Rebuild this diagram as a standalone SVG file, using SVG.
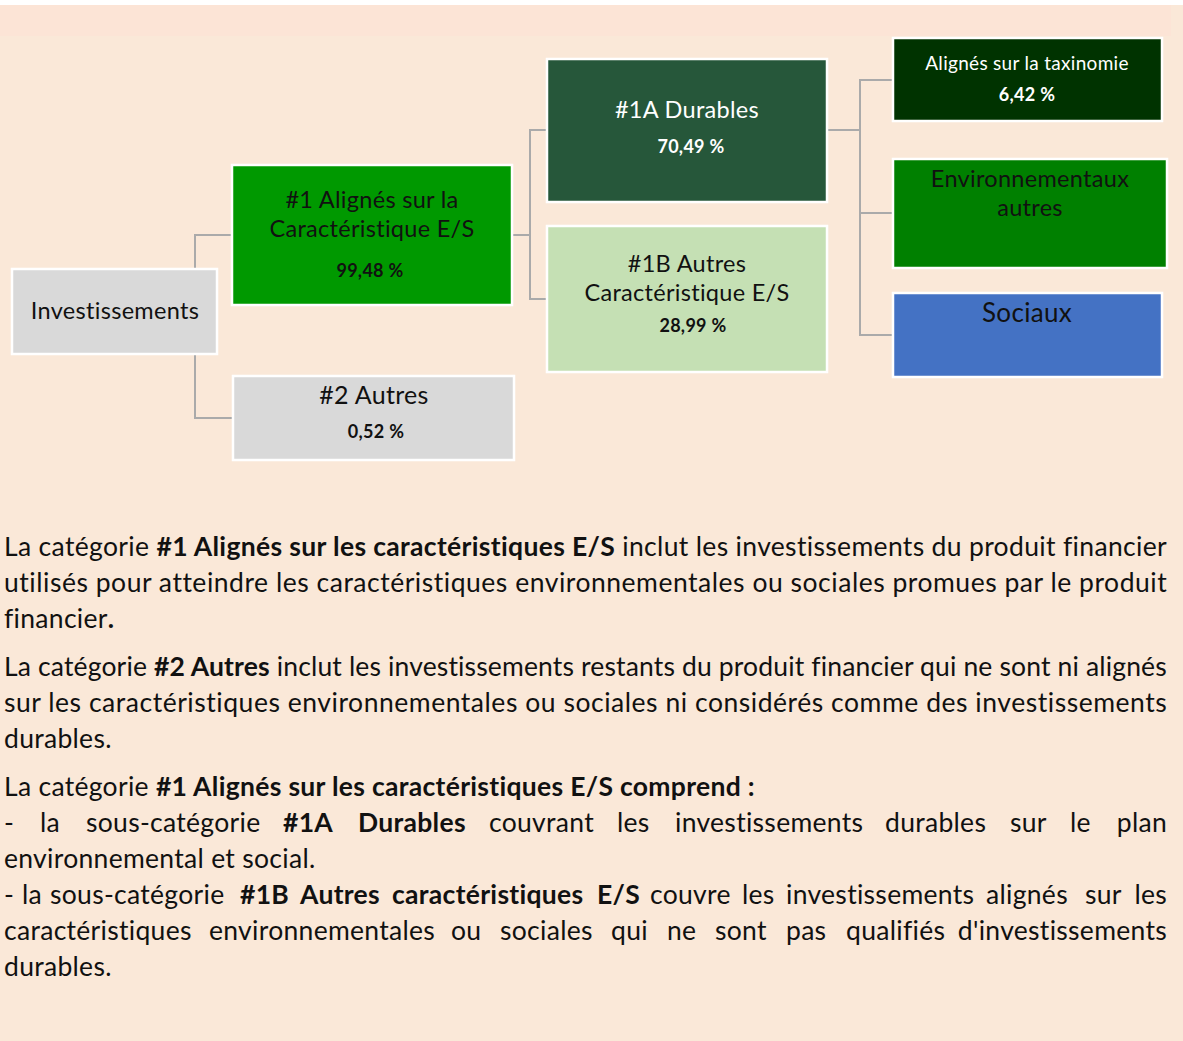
<svg xmlns="http://www.w3.org/2000/svg" width="1183" height="1041" viewBox="0 0 1183 1041">
<style>
.box{stroke:#ffffff;stroke-width:2.5}
.t{font-family:Lato,"Liberation Sans",sans-serif;text-anchor:middle;letter-spacing:0.3px;font-variant-ligatures:none}
.n{font-size:23.5px}
.p{font-size:18px;font-weight:bold}
.w{fill:#ffffff}
.k{fill:#111111}
.c{fill:none;stroke:#aaaaaa;stroke-width:2}
.body{font-family:Lato,"Liberation Sans",sans-serif;font-size:26.5px;fill:#111111;letter-spacing:0.3px;font-variant-ligatures:none}
.b{font-weight:bold}
</style>
<rect x="0" y="0" width="1183" height="1041" fill="#ffffff"/>
<rect x="0" y="5" width="1183" height="1036" fill="#fae8d8"/>
<rect x="0" y="5" width="1171" height="31" fill="#fce4d6"/>

<g id="connectors">
<path class="c" d="M195,269 V235 H232 M195,354 V418 H233"/>
<path class="c" d="M512,235 H530 M546,130 H530 V299 H546"/>
<path class="c" d="M827,130 H860 M892,80 H860 V335 H892 M860,213 H892"/>
</g>

<g id="investissements">
<rect class="box" x="12" y="269" width="205" height="85" fill="#d9d9d9"/>
<text class="t n k" x="115" y="319">Investissements</text>
</g>
<g id="n1">
<rect class="box" x="232" y="165" width="280" height="140" fill="#009900"/>
<text class="t n k" x="372" y="208">#1 Alignés sur la</text>
<text class="t n k" x="372" y="237">Caractéristique E/S</text>
<text class="t p k" x="370" y="277">99,48 %</text>
</g>
<g id="n2">
<rect class="box" x="233" y="376" width="281" height="84" fill="#d9d9d9"/>
<text class="t k" style="font-size:25px" x="374" y="404">#2 Autres</text>
<text class="t p k" x="376" y="438">0,52 %</text>
</g>
<g id="n1a">
<rect class="box" x="547" y="59" width="280" height="143" fill="#26573a"/>
<text class="t n w" x="687" y="118">#1A Durables</text>
<text class="t p w" x="691" y="153">70,49 %</text>
</g>
<g id="n1b">
<rect class="box" x="547" y="226" width="280" height="146" fill="#c5e0b4"/>
<text class="t n k" x="687" y="272">#1B Autres</text>
<text class="t n k" x="687" y="301">Caractéristique E/S</text>
<text class="t p k" x="693" y="332">28,99 %</text>
</g>
<g id="taxonomie">
<rect class="box" x="893" y="38" width="269" height="83" fill="#003300"/>
<text class="t w" style="font-size:19px" x="1027" y="70">Alignés sur la taxinomie</text>
<text class="t p w" x="1027" y="101">6,42 %</text>
</g>
<g id="environnementaux">
<rect class="box" x="893" y="159" width="274" height="109" fill="#008000"/>
<text class="t n k" x="1030" y="187">Environnementaux</text>
<text class="t n k" x="1030" y="216">autres</text>
</g>
<g id="sociaux">
<rect class="box" x="893" y="293" width="269" height="84" fill="#4472c4"/>
<text class="t k" style="font-size:26px" x="1027" y="322">Sociaux</text>
</g>

<g id="texte">
<text class="body" x="4" y="556" textLength="1163" lengthAdjust="spacing">La catégorie <tspan class="b">#1 Alignés sur les caractéristiques E/S</tspan> inclut les investissements du produit financier</text>
<text class="body" x="4" y="592" textLength="1163" lengthAdjust="spacing">utilisés pour atteindre les caractéristiques environnementales ou sociales promues par le produit</text>
<text class="body" x="4" y="628">financier<tspan class="b">.</tspan></text>

<text class="body" x="4" y="676" textLength="1163" lengthAdjust="spacing">La catégorie <tspan class="b">#2 Autres</tspan> inclut les investissements restants du produit financier qui ne sont ni alignés</text>
<text class="body" x="4" y="712" textLength="1163" lengthAdjust="spacing">sur les caractéristiques environnementales ou sociales ni considérés comme des investissements</text>
<text class="body" x="4" y="748">durables.</text>

<text class="body" x="4" y="796">La catégorie <tspan class="b">#1 Alignés sur les caractéristiques E/S comprend :</tspan></text>
<text class="body" y="832"><tspan x="4">-</tspan><tspan x="40">la</tspan><tspan x="86">sous-catégorie</tspan><tspan class="b" x="283">#1A</tspan><tspan class="b" x="358">Durables</tspan><tspan x="489">couvrant</tspan><tspan x="617">les</tspan><tspan x="675">investissements</tspan><tspan x="885">durables</tspan><tspan x="1010">sur</tspan><tspan x="1070">le</tspan><tspan x="1167" text-anchor="end">plan</tspan></text>
<text class="body" x="4" y="868">environnemental et social.</text>
<text class="body" y="904"><tspan x="4">-</tspan><tspan x="22">la</tspan><tspan x="50">sous-catégorie</tspan><tspan class="b" x="240">#1B</tspan><tspan class="b" x="300">Autres</tspan><tspan class="b" x="392">caractéristiques</tspan><tspan class="b" x="597">E/S</tspan><tspan x="650">couvre</tspan><tspan x="742">les</tspan><tspan x="786">investissements</tspan><tspan x="986">alignés</tspan><tspan x="1085">sur</tspan><tspan x="1167" text-anchor="end">les</tspan></text>
<text class="body" y="940"><tspan x="4">caractéristiques</tspan><tspan x="209">environnementales</tspan><tspan x="451">ou</tspan><tspan x="500">sociales</tspan><tspan x="611">qui</tspan><tspan x="667">ne</tspan><tspan x="715">sont</tspan><tspan x="786">pas</tspan><tspan x="846">qualifiés</tspan><tspan x="1167" text-anchor="end">d'investissements</tspan></text>
<text class="body" x="4" y="976">durables.</text>
</g>
</svg>
